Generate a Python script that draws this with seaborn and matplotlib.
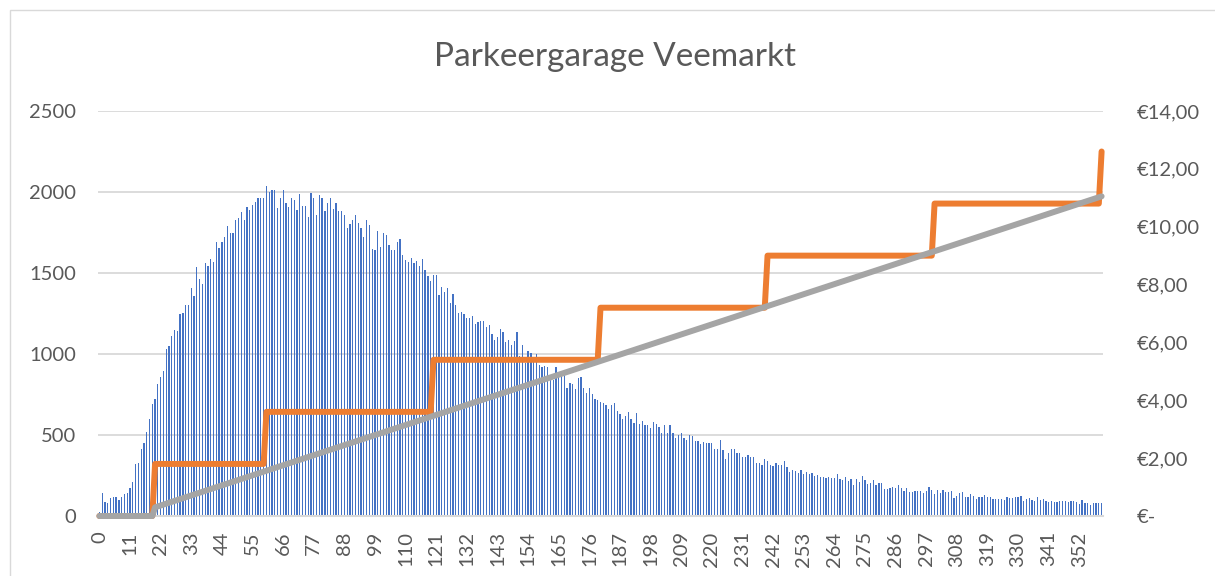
import numpy as np
import pandas as pd
import matplotlib
matplotlib.use("Agg")
import matplotlib.pyplot as plt
import seaborn as sns
from matplotlib.patches import Rectangle

# ---------------- data ----------------
title = "Parkeergarage Veemarkt"
minutes = list(range(361))
counts = [
    27, 144, 88, 78, 109, 115, 115, 99, 115, 136,
    144, 171, 210, 319, 325, 416, 449, 521, 600, 691,
    725, 815, 855, 895, 1030, 1050, 1110, 1150, 1140, 1245,
    1255, 1300, 1300, 1410, 1360, 1535, 1465, 1430, 1560, 1545,
    1585, 1565, 1690, 1655, 1690, 1725, 1790, 1750, 1750, 1830,
    1840, 1875, 1830, 1905, 1890, 1920, 1940, 1960, 1960, 1960,
    2040, 2000, 2010, 2015, 1900, 1965, 2010, 1930, 1910, 1960,
    1950, 1890, 1985, 1915, 1915, 1845, 1995, 1965, 1855, 1980,
    1965, 1885, 1930, 1965, 1895, 1930, 1885, 1885, 1860, 1780,
    1800, 1830, 1860, 1810, 1780, 1725, 1830, 1795, 1650, 1645,
    1760, 1660, 1750, 1735, 1675, 1640, 1640, 1690, 1710, 1610,
    1580, 1565, 1595, 1560, 1575, 1545, 1585, 1520, 1480, 1450,
    1490, 1485, 1365, 1412, 1380, 1405, 1313, 1370, 1303, 1255,
    1260, 1245, 1220, 1220, 1235, 1185, 1200, 1205, 1205, 1165,
    1177, 1124, 1087, 1103, 1152, 1138, 1076, 1087, 1056, 1083,
    1134, 988, 1056, 943, 1019, 1008, 984, 1000, 932, 922,
    926, 918, 870, 840, 918, 880, 870, 880, 792, 823,
    815, 782, 850, 860, 792, 757, 788, 753, 720, 716,
    704, 696, 687, 660, 685, 696, 646, 628, 597, 617,
    640, 601, 572, 638, 568, 589, 560, 560, 545, 582,
    568, 547, 510, 560, 514, 560, 510, 480, 500, 510,
    480, 469, 500, 494, 463, 463, 445, 459, 451, 453,
    453, 412, 412, 467, 405, 352, 387, 416, 416, 387,
    389, 366, 362, 377, 362, 366, 325, 325, 315, 350,
    340, 315, 309, 325, 317, 315, 340, 303, 272, 284,
    278, 263, 284, 259, 272, 259, 268, 249, 253, 239,
    241, 237, 243, 235, 235, 259, 230, 222, 243, 218,
    228, 191, 228, 208, 249, 222, 198, 204, 220, 191,
    202, 204, 169, 167, 171, 181, 173, 189, 173, 156,
    171, 148, 150, 154, 152, 154, 144, 156, 177, 160,
    134, 160, 144, 160, 148, 148, 152, 111, 123, 140,
    150, 119, 117, 136, 123, 103, 119, 119, 132, 119,
    115, 107, 103, 103, 105, 101, 115, 109, 109, 119,
    115, 123, 91, 103, 111, 99, 93, 115, 99, 103,
    95, 88, 95, 84, 84, 91, 91, 91, 86, 91,
    91, 86, 74, 97, 82, 82, 70, 80, 80, 80,
    80,
]
price_minutes = [0, 19, 20, 59, 60, 119, 120, 179, 180, 239, 240, 299, 300, 359, 360]
price_values = [0, 0, 1.8, 1.8, 3.6, 3.6, 5.4, 5.4, 7.2, 7.2, 9.0, 9.0, 10.8, 10.8, 12.6]
linear_minutes = [0, 19, 20, 360]
linear_values = [0, 0, 0.3, 11.05]
left_ticks = [0, 500, 1000, 1500, 2000, 2500]
right_ticks = [0, 2, 4, 6, 8, 10, 12, 14]
right_labels = ["€-", "€2,00", "€4,00", "€6,00", "€8,00", "€10,00", "€12,00", "€14,00"]
x_step = 11

# ---------------- style ----------------
sns.set_style("white")
plt.rcParams["font.family"] = ["Lato", "DejaVu Sans"]
TXT = "#595959"
GRID = "#D9D9D9"

W, H = 1215, 576
fig = plt.figure(figsize=(W / 100, H / 100), dpi=100)
ax = fig.add_axes([98 / W, 60 / H, 1005 / W, 405 / H])

df = pd.DataFrame({"minute": minutes, "count": counts})
sns.barplot(data=df, x="minute", y="count", color="#4472C4", saturation=1,
            width=0.45, linewidth=0, errorbar=None, ax=ax)

ax.set_xlim(-0.5, len(minutes) - 0.5)
ax.set_ylim(0, 2500)
xt = minutes[::x_step]
ax.set_xticks(xt)
ax.set_xticklabels([str(m) for m in xt], rotation=90)
ax.set_yticks(left_ticks)
ax.set_yticklabels([str(v) for v in left_ticks])
ax.set_xlabel("")
ax.set_ylabel("")
ax.yaxis.grid(True, color=GRID, lw=1.3)
ax.xaxis.grid(False)
ax.set_axisbelow(True)
for s in ["top", "left", "right"]:
    ax.spines[s].set_visible(False)
ax.spines["bottom"].set_color(GRID)
ax.spines["bottom"].set_linewidth(1.5)
ax.tick_params(axis="y", length=0, labelsize=14.5, labelcolor=TXT, pad=16)
ax.tick_params(axis="x", length=0, labelsize=14.5, labelcolor=TXT, pad=11)

ax2 = ax.twinx()
sns.lineplot(x=price_minutes, y=price_values, ax=ax2, color="#ED7D31", lw=4.3,
             solid_capstyle="round", solid_joinstyle="round", clip_on=False)
sns.lineplot(x=linear_minutes, y=linear_values, ax=ax2, color="#A5A5A5", lw=4.3,
             solid_capstyle="round", solid_joinstyle="round", clip_on=False)
ax2.set_ylim(0, 14)
ax2.set_xlim(-0.5, len(minutes) - 0.5)
ax2.set_yticks(right_ticks)
ax2.set_yticklabels(right_labels)
ax2.set_ylabel("")
for s in ax2.spines.values():
    s.set_visible(False)
ax2.tick_params(axis="y", length=0, labelsize=14.5, labelcolor=TXT, pad=24)
ax2.grid(False)

fig.text(615 / W, 1 - 57 / H, title, ha="center", va="center",
         fontsize=24, color=TXT)

fig.add_artist(Rectangle((10 / W, -0.1), 1.2, (H - 10) / H + 0.1,
                         transform=fig.transFigure, fill=False,
                         edgecolor=GRID, lw=1))

fig.savefig("out.png", dpi=100)
